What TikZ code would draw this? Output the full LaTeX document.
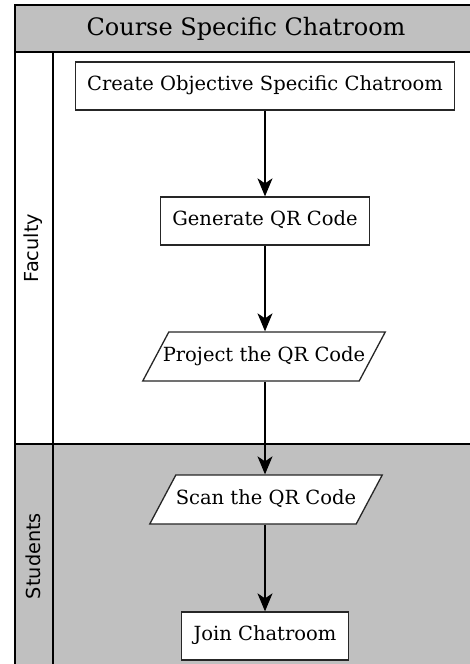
\documentclass[tikz,border=0pt]{standalone}
\usepackage{fontspec}
\setmainfont{DejaVu Serif}
\setsansfont{DejaVu Sans}
\usetikzlibrary{shapes.geometric, arrows.meta}
\definecolor{savszurke}{RGB}{192,192,192}

\begin{document}
\begin{tikzpicture}[x=1pt, y=-1pt,
        lepes/.style={draw=black!85, line width=1.3pt, fill=white,
            text height=14pt, text depth=5pt, inner ysep=14.5pt, inner xsep=12pt,
            font=\fontsize{19.5}{22}\selectfont},
        adat/.style={lepes, trapezium, trapezium left angle=62,
            trapezium right angle=118, inner ysep=15pt, inner xsep=0pt},
        nyil/.style={-{Stealth[length=18pt, width=15pt, inset=5pt]}, line width=1.2pt},
        sav/.style={font=\sffamily\fontsize{19.3}{21}\selectfont, rotate=90}]
    \clip (0,0) rectangle (470,664);

    % 1. Keret, cimsor es savok
    \fill[savszurke] (14.5,5) rectangle (478,52);
    \fill[savszurke] (14.5,444) rectangle (478,668);
    \draw[line width=2pt] (14.5,668) -- (14.5,5) -- (478,5) -- (478,668);
    \draw[line width=2pt] (14.5,52) -- (478,52);
    \draw[line width=2pt] (14.5,444) -- (478,444);
    \draw[line width=2pt] (53,52) -- (53,668);

    \node[font=\fontsize{24}{28}\selectfont] (cim) at (246,29) {Course Specific Chatroom};
    \node[sav] (faculty) at (33,248) {Faculty};
    \node[sav] (students) at (33,556) {Students};

    % 2. Lepesek elhelyezese
    \node[lepes] (c-1) at (265,86) {Create Objective Specific Chatroom};
    \node[lepes] (c-2) at (265,221) {Generate QR Code};
    \node[adat, inner xsep=-6pt] (c-3) at (264,356.5) {Project the QR Code};
    \node[adat] (c-4) at (266,499.5) {Scan the QR Code};
    \node[lepes] (c-5) at (265,636) {Join Chatroom};

    % 3. Nyilak
    \foreach \a/\b in {1/2, 2/3, 3/4, 4/5} {
        \draw[nyil] (c-\a.south -| c-2) -- (c-\b.north -| c-2);
    }
\end{tikzpicture}
\end{document}
